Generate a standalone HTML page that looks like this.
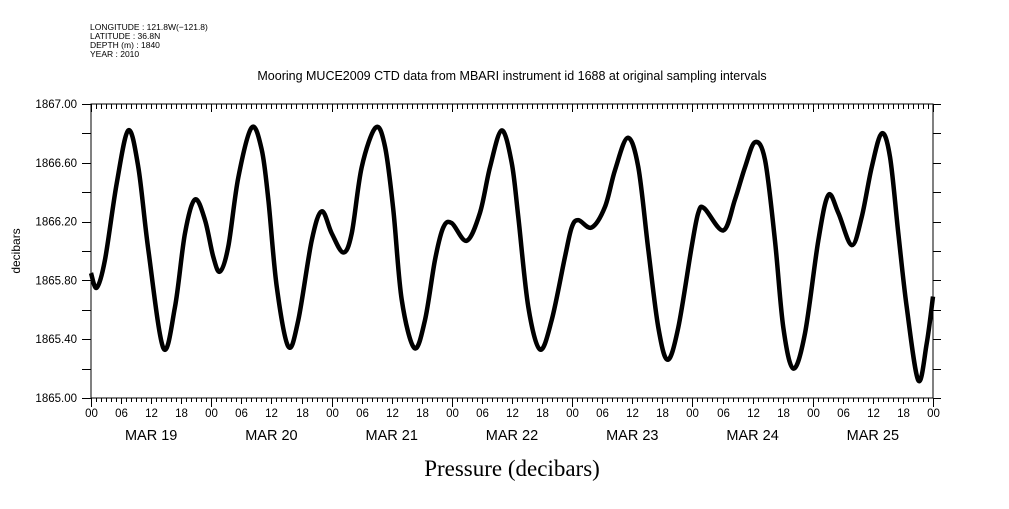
<!DOCTYPE html>
<html><head><meta charset="utf-8"><style>
body{margin:0;background:#fff;}
svg text{font-family:"Liberation Sans",sans-serif;fill:#000;}
</style></head><body>
<svg width="1009" height="504" viewBox="0 0 1009 504" xmlns="http://www.w3.org/2000/svg">
<g font-size="8.5">
<text x="90" y="30">LONGITUDE : 121.8W(−121.8)</text>
<text x="90" y="39">LATITUDE : 36.8N</text>
<text x="90" y="48">DEPTH (m) : 1840</text>
<text x="90" y="57">YEAR : 2010</text>
</g>
<text x="512" y="80" font-size="12.5" text-anchor="middle">Mooring MUCE2009 CTD data from MBARI instrument id 1688 at original sampling intervals</text>
<text transform="translate(20,251) rotate(-90)" font-size="12" text-anchor="middle">decibars</text>
<text x="512" y="476" font-size="23" text-anchor="middle" style="font-family:'Liberation Serif',serif">Pressure (decibars)</text>
<rect x="91" y="104" width="842" height="294" fill="none" stroke="#000" stroke-width="1"/>
<g id="axes"></g>
<path id="series" fill="none" stroke="#000" stroke-width="4.5" stroke-linejoin="round"/>
</svg>
<script>
const hours=[0,1.14,2.79,5.13,7.44,9.44,11.43,14.43,16.76,18.75,20.75,22.75,24.40,25.74,27.39,29.39,32.06,34.06,35.38,37.05,39.37,41.36,44.03,46.03,48.03,50.34,52.02,54.01,56.80,58.66,60.32,61.99,64.51,66.64,68.64,70.29,71.97,74.96,77.61,79.61,81.94,83.94,85.26,87.25,89.59,91.92,94.57,95.91,97.23,99.90,102.55,104.55,107.08,109.20,111.19,113.19,115.06,117.18,119.85,121.17,122.37,126.16,128.49,130.49,132.48,134.48,136.47,138.13,140.12,142.46,145.11,147.11,149.10,151.78,153.77,155.77,157.76,159.42,161.08,162.75,165.06,166.74,168];
const values=[1865.85,1865.75,1865.94,1866.46,1866.82,1866.57,1866.01,1865.34,1865.62,1866.12,1866.35,1866.21,1865.96,1865.86,1866.03,1866.50,1866.84,1866.69,1866.35,1865.76,1865.35,1865.53,1866.07,1866.27,1866.12,1865.99,1866.12,1866.57,1866.84,1866.71,1866.28,1865.67,1865.34,1865.53,1865.94,1866.16,1866.19,1866.07,1866.26,1866.57,1866.82,1866.60,1866.23,1865.62,1865.33,1865.53,1865.96,1866.16,1866.21,1866.16,1866.30,1866.55,1866.77,1866.57,1866.01,1865.48,1865.26,1865.48,1866.03,1866.26,1866.29,1866.14,1866.35,1866.57,1866.74,1866.62,1866.07,1865.48,1865.20,1865.44,1866.07,1866.38,1866.26,1866.04,1866.23,1866.57,1866.80,1866.64,1866.12,1865.62,1865.12,1865.37,1865.69];
const dayLabels=["MAR 19","MAR 20","MAR 21","MAR 22","MAR 23","MAR 24","MAR 25"];
const yTicks=[1865.0,1865.4,1865.8,1866.2,1866.6,1867.0];
const X0=91,X1=933,Y0=398,Y1=104,H=168,VMIN=1865,VMAX=1867;
const xs=h=>X0+(X1-X0)*h/H;
const ys=v=>Y0-(Y0-Y1)*(v-VMIN)/(VMAX-VMIN);
const NS="http://www.w3.org/2000/svg";
const g=document.getElementById('axes');
function line(x1,y1,x2,y2){const l=document.createElementNS(NS,'line');l.setAttribute('x1',x1);l.setAttribute('y1',y1);l.setAttribute('x2',x2);l.setAttribute('y2',y2);l.setAttribute('stroke','#000');l.setAttribute('stroke-width','1');g.appendChild(l);return l;}
function text(x,y,s,fs,anchor){const t=document.createElementNS(NS,'text');t.setAttribute('x',x);t.setAttribute('y',y);t.setAttribute('font-size',fs);t.setAttribute('text-anchor',anchor);t.textContent=s;g.appendChild(t);return t;}
for(let h=0;h<=H;h++){
  const x=Math.round(xs(h))+0.5;
  const len=h%24===0?9:(h%6===0?6:4);
  let l=line(x,398,x,398+len);
  
  
  l=line(x,104,x,104+(h%24===0?8:5));
  
  
  if(h%6===0){const t=text(x,417,String(h%24).padStart(2,'0'),11.5,'middle');
    
    }
}
dayLabels.forEach((d,i)=>{const t=text(xs(i*24+12),440,d,14.5,'middle');
  
  });
for(let v=1865;v<=1867.001;v+=0.2){
  const y=Math.round(ys(v))+0.5;
  let l=line(82,y,91,y);
  
  
  l=line(933,y,941,y);
  
  
}
yTicks.forEach(v=>{const t=text(77,ys(v)+4,v.toFixed(2),11.5,'end');
  
  });
const P=hours.map((h,i)=>[xs(h),ys(values[i])]);
let d='M'+P[0][0]+','+P[0][1];
for(let i=0;i<P.length-1;i++){
  const p0=P[Math.max(0,i-1)],p1=P[i],p2=P[i+1],p3=P[Math.min(P.length-1,i+2)];
  const c1=[p1[0]+(p2[0]-p0[0])/6,p1[1]+(p2[1]-p0[1])/6];
  const c2=[p2[0]-(p3[0]-p1[0])/6,p2[1]-(p3[1]-p1[1])/6];
  d+=' C'+c1+' '+c2+' '+p2;
}
document.getElementById('series').setAttribute('d',d);
</script>
</body></html>
